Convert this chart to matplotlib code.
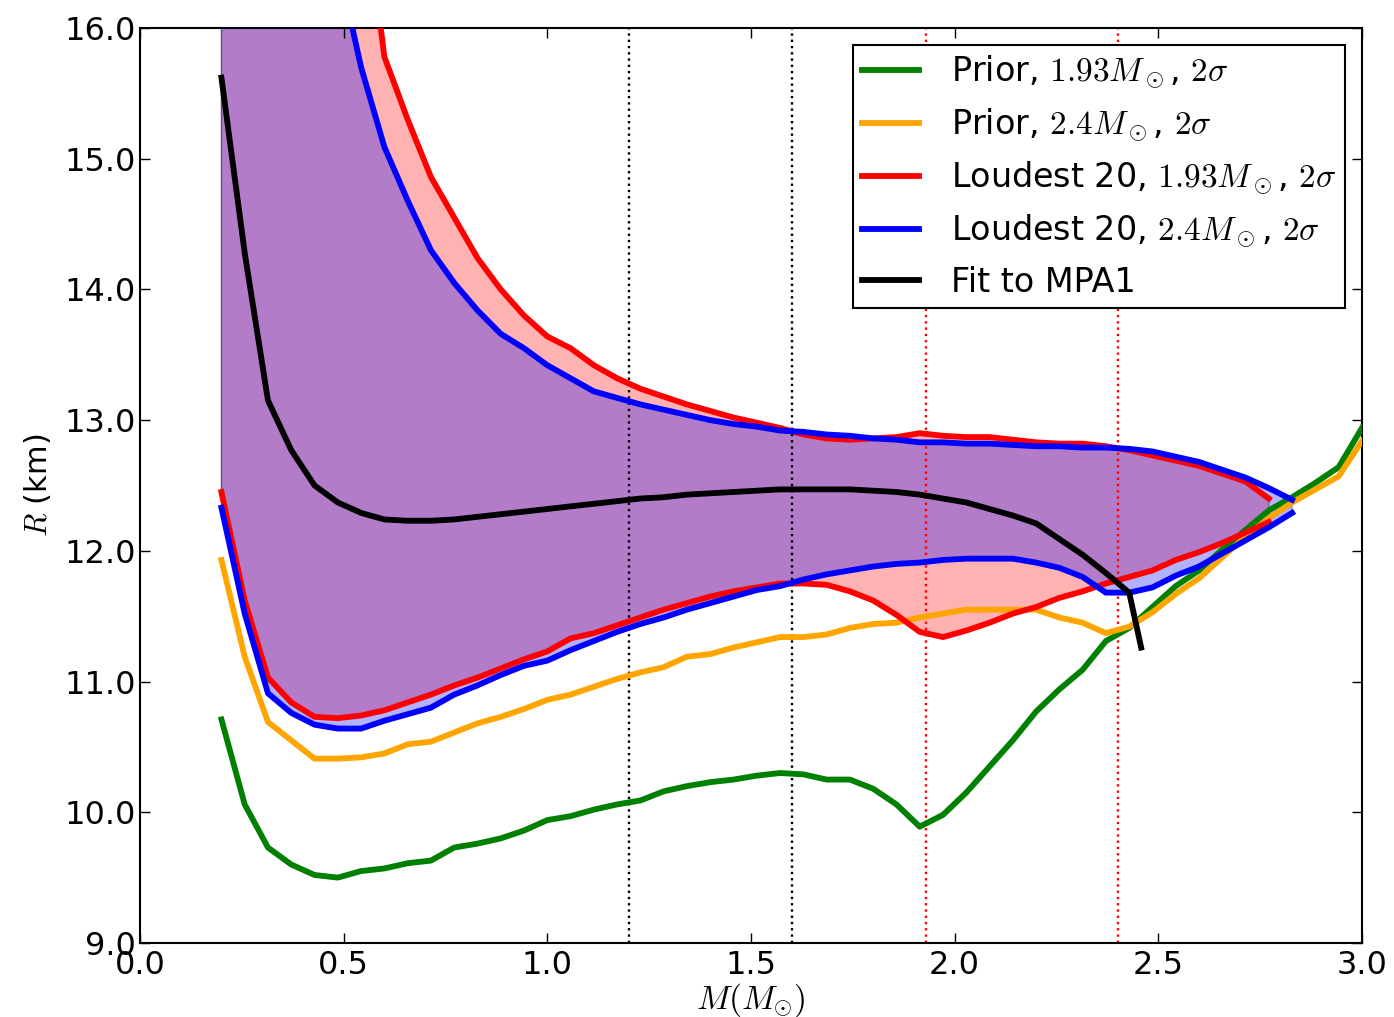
import numpy as np
import matplotlib
matplotlib.use("Agg")
import matplotlib.pyplot as plt
from matplotlib.ticker import FormatStrFormatter

plt.rcParams['mathtext.fontset'] = 'cm'
plt.rcParams['font.family'] = ['DejaVu Sans']

# mass grid (Msun) shared by the band curves
masa = np.linspace(0.2, 3.0, 50)

# prior bands (2 sigma lower edges), km
prior_193 = [10.71, 10.06, 9.73, 9.60, 9.52, 9.50, 9.55, 9.57, 9.61, 9.63,
             9.73, 9.76, 9.80, 9.86, 9.94, 9.97, 10.02, 10.06, 10.09, 10.16,
             10.20, 10.23, 10.25, 10.28, 10.30, 10.29, 10.25, 10.25, 10.18, 10.06,
             9.89, 9.98, 10.15, 10.35, 10.55, 10.77, 10.94, 11.09, 11.31, 11.41,
             11.57, 11.73, 11.85, 12.01, 12.16, 12.31, 12.41, 12.52, 12.64, 12.94]
prior_24 = [11.93, 11.19, 10.69, 10.55, 10.41, 10.41, 10.42, 10.45, 10.52, 10.54,
            10.61, 10.68, 10.73, 10.79, 10.86, 10.90, 10.96, 11.02, 11.07, 11.11,
            11.19, 11.21, 11.26, 11.30, 11.34, 11.34, 11.36, 11.41, 11.44, 11.45,
            11.49, 11.52, 11.55, 11.55, 11.55, 11.55, 11.49, 11.45, 11.37, 11.42,
            11.53, 11.67, 11.79, 11.95, 12.11, 12.25, 12.37, 12.47, 12.57, 12.84]

# loudest 20 events, 1.93 Msun (upper / lower edges)
l20_193_sup = [40.0, 32.0, 26.0, 22.0, 19.5, 18.2, 17.2, 15.78, 15.30, 14.86,
               14.55, 14.24, 14.00, 13.80, 13.64, 13.55, 13.42, 13.32, 13.24, 13.18,
               13.12, 13.07, 13.02, 12.98, 12.94, 12.89, 12.86, 12.85, 12.86, 12.87,
               12.90, 12.88, 12.87, 12.87, 12.85, 12.83, 12.82, 12.82, 12.80, 12.77,
               12.73, 12.69, 12.65, 12.59, 12.53, 12.40]
l20_193_inf = [12.45, 11.62, 11.03, 10.84, 10.73, 10.72, 10.74, 10.78, 10.84, 10.90,
               10.97, 11.03, 11.10, 11.17, 11.23, 11.33, 11.37, 11.43, 11.49, 11.55,
               11.60, 11.65, 11.69, 11.72, 11.75, 11.75, 11.74, 11.69, 11.62, 11.51,
               11.38, 11.34, 11.39, 11.45, 11.52, 11.57, 11.64, 11.69, 11.75, 11.80,
               11.85, 11.93, 11.99, 12.06, 12.14, 12.22]

# loudest 20 events, 2.4 Msun
l20_24_sup = [30.0, 25.0, 21.5, 19.0, 17.5, 16.5, 15.70, 15.09, 14.68, 14.30,
              14.05, 13.84, 13.66, 13.55, 13.42, 13.32, 13.22, 13.17, 13.12, 13.08,
              13.04, 13.00, 12.97, 12.95, 12.92, 12.91, 12.89, 12.88, 12.86, 12.85,
              12.83, 12.83, 12.82, 12.82, 12.81, 12.80, 12.80, 12.79, 12.79, 12.78,
              12.76, 12.72, 12.68, 12.62, 12.56, 12.48, 12.39]
l20_24_inf = [12.33, 11.52, 10.91, 10.76, 10.67, 10.64, 10.64, 10.70, 10.75, 10.80,
              10.90, 10.97, 11.05, 11.12, 11.16, 11.24, 11.31, 11.38, 11.44, 11.49,
              11.55, 11.60, 11.65, 11.70, 11.73, 11.78, 11.82, 11.85, 11.88, 11.90,
              11.91, 11.93, 11.94, 11.94, 11.94, 11.91, 11.87, 11.80, 11.68, 11.68,
              11.72, 11.81, 11.88, 11.98, 12.08, 12.18, 12.29]

# MPA1 fit
masa_mpa1 = list(masa[:40]) + [2.458]
radio_mpa1 = [15.62, 14.28, 13.15, 12.77, 12.50, 12.37, 12.29, 12.24, 12.23, 12.23,
              12.24, 12.26, 12.28, 12.30, 12.32, 12.34, 12.36, 12.38, 12.40, 12.41,
              12.43, 12.44, 12.45, 12.46, 12.47, 12.47, 12.47, 12.47, 12.46, 12.45,
              12.43, 12.40, 12.37, 12.32, 12.27, 12.21, 12.09, 11.97, 11.83, 11.68,
              11.26]

masas_negras = [1.2, 1.6]
masas_rojas = [1.93, 2.4]

fig = plt.figure(figsize=(13.94, 10.17), dpi=100)
ax = fig.add_axes([0.1004, 0.0728, 0.8766, 0.8997])

n1 = len(l20_193_sup)
n2 = len(l20_24_sup)
ax.fill_between(masa[:n1], l20_193_inf, l20_193_sup, facecolor='red', alpha=0.3,
                edgecolor='k', linewidth=1, zorder=1)
ax.fill_between(masa[:n2], l20_24_inf, l20_24_sup, facecolor='blue', alpha=0.3,
                edgecolor='k', linewidth=1, zorder=1)

lw = 4.2
ax.plot(masa, prior_193, color='green', lw=lw, label=r'Prior, $1.93M_\odot$, $2\sigma$', zorder=3)
ax.plot(masa, prior_24, color='orange', lw=lw, label=r'Prior, $2.4M_\odot$, $2\sigma$', zorder=3)
ax.plot(masa[:n1], l20_193_inf, color='red', lw=lw,
        label=r'Loudest 20, $1.93M_\odot$, $2\sigma$', zorder=3)
ax.plot(masa[:n1], l20_193_sup, color='red', lw=lw, zorder=3)
ax.plot(masa[:n2], l20_24_inf, color='blue', lw=lw,
        label=r'Loudest 20, $2.4M_\odot$, $2\sigma$', zorder=3)
ax.plot(masa[:n2], l20_24_sup, color='blue', lw=lw, zorder=3)
ax.plot(masa_mpa1, radio_mpa1, color='black', lw=lw, label='Fit to MPA1', zorder=3)

for m in masas_negras:
    ax.axvline(m, color='black', ls=':', lw=1.7, zorder=2)
for m in masas_rojas:
    ax.axvline(m, color='red', ls=':', lw=1.7, zorder=2)

ax.set_xlim(0, 3)
ax.set_ylim(9, 16)
ax.set_xticks(np.arange(0, 3.01, 0.5))
ax.set_yticks(np.arange(9, 16.01, 1.0))
ax.xaxis.set_major_formatter(FormatStrFormatter('%.1f'))
ax.yaxis.set_major_formatter(FormatStrFormatter('%.1f'))
ax.tick_params(direction='in', top=True, right=True, length=7, width=1, labelsize=23)
ax.tick_params(axis='y', pad=3)
ax.tick_params(axis='x', pad=5)
for s in ax.spines.values():
    s.set_linewidth(1.5)

ax.set_xlabel(r'$M(M_{\odot})$', fontsize=24, labelpad=0)
ax.set_ylabel(r'$R$ (km)', fontsize=22, labelpad=8)

leg = ax.legend(loc='upper right', fontsize=24, fancybox=False, framealpha=1,
                edgecolor='black', handlelength=1.7, handletextpad=0.95,
                labelspacing=0.47, borderpad=0.27)
leg.get_frame().set_linewidth(1.5)

fig.savefig('out.png', dpi=100)
